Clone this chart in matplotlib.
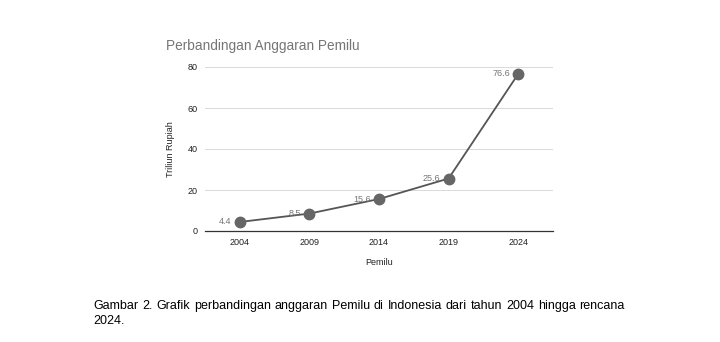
import matplotlib
matplotlib.use("Agg")
import matplotlib.pyplot as plt

years = ["2004", "2009", "2014", "2019", "2024"]
values = [4.4, 8.5, 15.6, 25.6, 76.6]
yticks = [0, 20, 40, 60, 80]
caption1 = "Gambar 2. Grafik perbandingan anggaran Pemilu di Indonesia dari tahun 2004 hingga rencana"
caption2 = "2024."

plt.rcParams['font.family'] = ['Liberation Sans', 'DejaVu Sans']

W, H = 720, 342
fig = plt.figure(figsize=(W/100, H/100), dpi=100)
fig.patch.set_facecolor('white')

ax = fig.add_axes([205/W, 1-231/H, (553-205)/W, (231-67)/H])
x = list(range(len(years)))
ax.plot(x, values, color='#555555', lw=1.3, marker='o', ms=7.5,
        markerfacecolor='#666666', markeredgecolor='#666666', zorder=3)
for xi, v in zip(x, values):
    ax.annotate(f"{v}", (xi, v), xytext=(-6, 0), textcoords='offset points',
                ha='right', va='center', fontsize=6.5, color='#757575')
ax.set_xlim(-0.5, 4.5)
ax.set_ylim(0, 80)
ax.set_xticks(x)
ax.set_xticklabels(years)
ax.set_yticks(yticks)
ax.grid(axis='y', color='#d9d9d9', lw=0.7)
ax.set_axisbelow(True)
for s in ['top', 'right', 'left']:
    ax.spines[s].set_visible(False)
ax.spines['bottom'].set_color('#333333')
ax.spines['bottom'].set_linewidth(0.9)
ax.tick_params(axis='both', length=0, labelsize=6.5, colors='#222222')
ax.tick_params(axis='x', pad=5)
ax.tick_params(axis='y', pad=5)
ax.set_xlabel("Pemilu", fontsize=6.5, color='#222222', labelpad=8)
ax.set_ylabel("Triliun Rupiah", fontsize=6.5, color='#222222', labelpad=9)

fig.text(166/W, 1-46/H, "Perbandingan Anggaran Pemilu", fontsize=9.8,
         color='#757575', ha='left', va='center')

# justified caption line
renderer = fig.canvas.get_renderer()
words = caption1.split(" ")
left, right = 93, 625
tobjs = [fig.text(0, 1-306/H, w, fontsize=9, color='#000000', ha='left', va='center')
         for w in words]
widths = [t.get_window_extent(renderer).width for t in tobjs]
gap = (right - left - sum(widths)) / (len(words) - 1)
cur = left
for t, w in zip(tobjs, widths):
    t.set_x(cur/W)
    cur += w + gap
fig.text(left/W, 1-321/H, caption2, fontsize=9, color='#000000', ha='left', va='center')

fig.savefig("out.png", dpi=100)
